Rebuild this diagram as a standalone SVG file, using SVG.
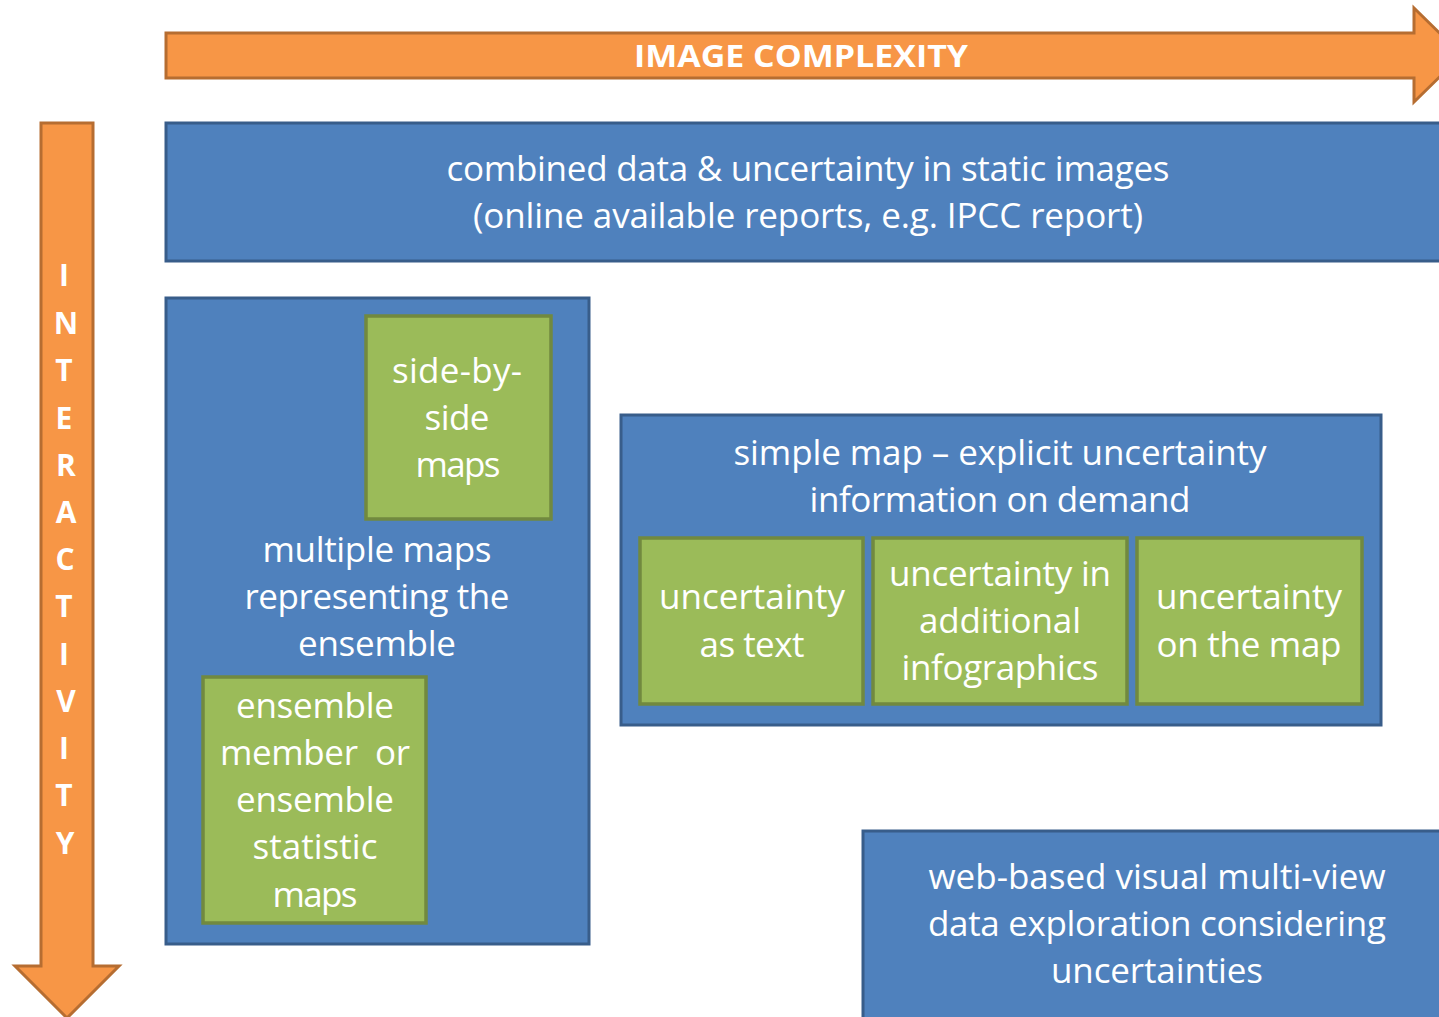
<svg xmlns="http://www.w3.org/2000/svg" width="1439" height="1017" viewBox="0 0 1439 1017">
<style>
.bg{fill:#ffffff}
.arrow{fill:#F79646;stroke:#B66D31;stroke-width:3;stroke-linejoin:miter}
.blue{fill:#4F81BD;stroke:#385D8A;stroke-width:3}
.green{fill:#9BBB59;stroke:#71893F;stroke-width:3.5}
.t{font-family:"Open Sans","Liberation Sans",sans-serif;font-size:35px;fill:#ffffff;text-anchor:middle}
.b{font-family:"Open Sans","Liberation Sans",sans-serif;font-weight:bold;font-size:30px;fill:#ffffff;text-anchor:middle}
</style>
<rect class="bg" x="0" y="0" width="1439" height="1017"/>
<g id="axes">
<g id="arrow-image-complexity">
<polygon class="arrow" points="166,33 1414,33 1414,8 1462,55 1414,102 1414,78 166,78"/>
<text class="b" x="801" y="67" textLength="334" lengthAdjust="spacingAndGlyphs">IMAGE COMPLEXITY</text>
</g>
<g id="arrow-interactivity">
<polygon class="arrow" points="41,123 93,123 93,966 119,966 67,1018 15,966 41,966"/>
<g class="b">
<text x="64" y="286">I</text>
<text x="66" y="334">N</text>
<text x="64" y="381">T</text>
<text x="64" y="429">E</text>
<text x="66" y="476">R</text>
<text x="66" y="523">A</text>
<text x="65" y="570">C</text>
<text x="64" y="617">T</text>
<text x="64" y="665">I</text>
<text x="66" y="712">V</text>
<text x="64" y="759">I</text>
<text x="64" y="806">T</text>
<text x="65" y="854">Y</text>
</g>
</g>
</g>
<g id="connectors"></g>
<g id="node-static">
<rect class="blue" x="166" y="123" width="1290" height="138"/>
<text class="t" x="808" y="181" textLength="723">combined data &amp; uncertainty in static images</text>
<text class="t" x="808" y="228" textLength="670">(online available reports, e.g. IPCC report)</text>
</g>
<g id="node-multiple">
<rect class="blue" x="166" y="298" width="423" height="646"/>
<text class="t" x="377" y="562" textLength="229">multiple maps</text>
<text class="t" x="377" y="609" textLength="265">representing the</text>
<text class="t" x="377" y="656" textLength="158">ensemble</text>
</g>
<g id="node-side-by-side">
<rect class="green" x="366" y="316" width="185" height="203"/>
<text class="t" x="457" y="383" textLength="130">side-by-</text>
<text class="t" x="457" y="430" textLength="65">side</text>
<text class="t" x="458" y="477" textLength="85">maps</text>
</g>
<g id="node-ensemble-member">
<rect class="green" x="203" y="677" width="223" height="246"/>
<text class="t" x="315" y="718" textLength="158">ensemble</text>
<text class="t" x="315" y="765" textLength="190" xml:space="preserve">member  or</text>
<text class="t" x="315" y="812" textLength="158">ensemble</text>
<text class="t" x="315" y="859" textLength="125">statistic</text>
<text class="t" x="315" y="907" textLength="85">maps</text>
</g>
<g id="node-simple-map">
<rect class="blue" x="621" y="415" width="760" height="310"/>
<text class="t" x="1000" y="465" textLength="533">simple map – explicit uncertainty</text>
<text class="t" x="1000" y="512" textLength="381">information on demand</text>
</g>
<g id="node-as-text">
<rect class="green" x="640" y="538" width="223" height="166"/>
<text class="t" x="752" y="609" textLength="186">uncertainty</text>
<text class="t" x="752" y="657" textLength="105">as text</text>
</g>
<g id="node-infographics">
<rect class="green" x="873" y="538" width="254" height="166"/>
<text class="t" x="1000" y="586" textLength="222">uncertainty in</text>
<text class="t" x="1000" y="633" textLength="162">additional</text>
<text class="t" x="1000" y="680" textLength="197">infographics</text>
</g>
<g id="node-on-map">
<rect class="green" x="1137" y="538" width="225" height="166"/>
<text class="t" x="1249" y="609" textLength="186">uncertainty</text>
<text class="t" x="1249" y="657" textLength="185">on the map</text>
</g>
<g id="node-web-based">
<rect class="blue" x="863" y="831" width="600" height="200"/>
<text class="t" x="1157" y="889" textLength="457">web-based visual multi-view</text>
<text class="t" x="1157" y="936" textLength="458">data exploration considering</text>
<text class="t" x="1157" y="983" textLength="212">uncertainties</text>
</g>
</svg>
